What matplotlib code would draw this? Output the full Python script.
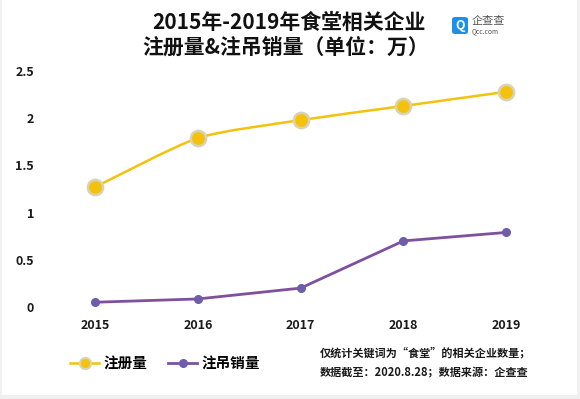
import numpy as np
import matplotlib
matplotlib.use("Agg")
import matplotlib.pyplot as plt
from matplotlib.path import Path
from matplotlib.patches import PathPatch, Rectangle, FancyBboxPatch
from matplotlib.lines import Line2D

plt.rcParams['font.family'] = ['Noto Sans CJK SC', 'DejaVu Sans']

# --- data ---
years = [2015, 2016, 2017, 2018, 2019]
registered = [1.27, 1.79, 1.98, 2.13, 2.28]     # 注册量 (万)
cancelled = [0.05, 0.085, 0.20, 0.70, 0.79]     # 注吊销量 (万)
y_ticks = [0, 0.5, 1, 1.5, 2, 2.5]
y_tick_labels = ['0', '0.5', '1', '1.5', '2', '2.5']

YELLOW = '#F4C20D'
YELLOW_EDGE = '#D9D2B4'
PURPLE_LINE = '#7E509E'
PURPLE_DOT = '#6E5EAA'


def smooth_path(xs, ys, k=0.11):
    """Catmull-Rom -> cubic bezier path through the given points."""
    pts = np.column_stack([xs, ys]).astype(float)
    verts = [pts[0]]
    codes = [Path.MOVETO]
    n = len(pts)
    for i in range(n - 1):
        p0 = pts[i - 1] if i > 0 else pts[i]
        p1, p2 = pts[i], pts[i + 1]
        p3 = pts[i + 2] if i + 2 < n else pts[i + 1]
        c1 = p1 + (p2 - p0) * k
        c2 = p2 - (p3 - p1) * k
        verts += [c1, c2, p2]
        codes += [Path.CURVE4] * 3
    return Path(verts, codes)


fig = plt.figure(figsize=(5.8, 3.99), dpi=100)
fig.patch.set_facecolor('#F0F0F0')
fig.add_artist(Rectangle((0.004, 0.01), 0.99, 0.99, transform=fig.transFigure,
                         facecolor='white', edgecolor='none', zorder=-10))

ax = fig.add_axes([0.0752, 0.207, 0.8864, 0.6386])
ax.set_facecolor('none')

# 注册量: smoothed line with big markers
ax.add_patch(PathPatch(smooth_path(years, registered), facecolor='none',
                       edgecolor=YELLOW, lw=1.8, zorder=2))
ax.plot(years, registered, linestyle='none', marker='o', markersize=11,
        markerfacecolor=YELLOW, markeredgecolor=YELLOW_EDGE, markeredgewidth=1.8,
        zorder=3)

# 注吊销量: straight line with small markers
ax.plot(years, cancelled, color=PURPLE_LINE, lw=2.0, marker='o', markersize=5.5,
        markerfacecolor=PURPLE_DOT, markeredgecolor=PURPLE_DOT, zorder=3)

ax.set_xlim(2014.5, 2019.5)
ax.set_ylim(-0.1, 2.6)
ax.set_xticks(years)
ax.set_xticklabels([str(y) for y in years])
ax.set_yticks(y_ticks)
ax.set_yticklabels(y_tick_labels)
ax.tick_params(axis='both', length=0, labelsize=9, colors='#1a1a1a')
ax.tick_params(axis='y', pad=7)
ax.tick_params(axis='x', pad=2)
for lab in ax.get_xticklabels() + ax.get_yticklabels():
    lab.set_fontweight('bold')
for s in ax.spines.values():
    s.set_visible(False)

# title
fig.text(0.498, 0.945, '2015年-2019年食堂相关企业', ha='center', va='center',
         fontsize=15, fontweight='bold', color='#111111')
fig.text(0.493, 0.882, '注册量&注吊销量（单位：万）', ha='center', va='center',
         fontsize=15, fontweight='bold', color='#111111')

# logo
fig.add_artist(FancyBboxPatch((452 / 580, 1 - 34 / 399), 16 / 580, 17 / 399,
                              boxstyle='round,pad=0,rounding_size=0.006',
                              transform=fig.transFigure, facecolor='#1E8FE6',
                              edgecolor='none'))
fig.text(460 / 580, 1 - 25.5 / 399, 'Q', ha='center', va='center', fontsize=9,
         fontweight='bold', color='white')
fig.text(472 / 580, 1 - 21 / 399, '企查查', ha='left', va='center', fontsize=8,
         color='#555555')
fig.text(472 / 580, 1 - 31 / 399, 'Qcc.com', ha='left', va='center', fontsize=4.8,
         color='#555555')

# legend
handles = [
    Line2D([], [], color=YELLOW, lw=1.8, marker='o', markersize=8,
           markerfacecolor=YELLOW, markeredgecolor=YELLOW_EDGE, markeredgewidth=1.5),
    Line2D([], [], color=PURPLE_LINE, lw=2.0, marker='o', markersize=5.5,
           markerfacecolor=PURPLE_DOT, markeredgecolor=PURPLE_DOT),
]
leg = fig.legend(handles, ['注册量', '注吊销量'], loc='center left',
                 bbox_to_anchor=(57 / 580, 1 - 363 / 399), ncol=2, frameon=False,
                 fontsize=10.5, handlelength=2.0, handletextpad=0.3,
                 columnspacing=1.4)
for t in leg.get_texts():
    t.set_fontweight('bold')

# note
fig.text(320 / 580, 1 - 353 / 399, '仅统计关键词为“食堂”的相关企业数量；', ha='left',
         va='center', fontsize=8, fontweight='bold', color='#1a1a1a')
fig.text(320 / 580, 1 - 373 / 399, '数据截至：2020.8.28；数据来源：企查查', ha='left',
         va='center', fontsize=8, fontweight='bold', color='#1a1a1a')

fig.savefig('out.png', dpi=100, facecolor=fig.get_facecolor())
